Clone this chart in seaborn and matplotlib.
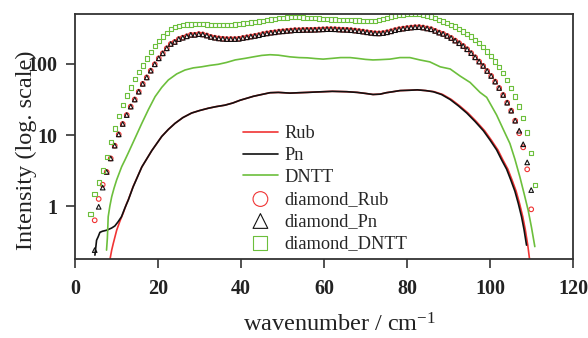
import numpy as np
import matplotlib
matplotlib.use("Agg")
import matplotlib.pyplot as plt
from matplotlib.ticker import NullLocator
import seaborn as sns

# --- data (intensity, log axis) ---
# continuous spectra
rub_x = [8.43, 8.84, 9.23, 10.04, 10.84, 11.6, 12.4, 12.85, 14.0, 16.1, 18.5, 20.9, 22.5, 24.1,
         26.0, 28.1, 30.0, 32.1, 34.0, 36.1, 38.0, 39.8, 41.0, 43.0, 45.0, 47.0, 49.0, 51.8,
         54.0, 56.0, 58.0, 59.8, 62.0, 65.5, 68.0, 70.0, 71.8, 73.5, 75.0, 76.6, 78.3, 80.7,
         82.5, 84.5, 86.6, 88.6, 90.7, 92.7, 94.7, 96.7, 98.7, 100.3, 101.9, 103.1, 104.3,
         105.3, 106.3, 107.1, 107.9, 108.5, 109.1, 109.6]
rub_y = [0.178, 0.240, 0.299, 0.457, 0.617, 0.794, 1.07, 1.23, 1.88, 3.55, 6.03, 9.55, 12.0, 14.6,
         17.6, 20.4, 22.1, 23.8, 25.1, 26.3, 28.2, 30.9, 32.4, 35.1, 37.2, 39.4, 39.8, 38.9,
         39.4, 39.8, 40.3, 40.7, 41.2, 40.7, 39.8, 38.5, 37.2, 37.6, 39.4, 40.7, 42.2, 42.7,
         43.2, 42.2, 40.7, 37.2, 31.6, 25.7, 20.4, 15.5, 11.5, 8.51, 6.17, 4.47, 3.31,
         2.34, 1.62, 1.10, 0.708, 0.468, 0.282, 0.166]

pn_x = [4.8, 5.2, 5.6, 6.0, 6.6, 7.6, 8.8, 9.6, 10.4, 11.2, 12.0, 12.85, 14.0, 16.1, 18.5, 20.9,
        22.5, 24.1, 26.0, 28.1, 30.0, 32.1, 34.0, 36.1, 38.0, 39.8, 41.0, 43.0, 45.0, 47.0,
        49.0, 51.8, 54.0, 56.0, 58.0, 59.8, 62.0, 65.5, 68.0, 70.0, 71.8, 73.5, 75.0, 76.6,
        78.3, 80.7, 82.5, 84.5, 86.3, 88.3, 90.4, 92.4, 94.4, 96.4, 98.4, 100.0, 101.6, 102.8,
        104.0, 105.0, 106.0, 106.8, 107.6, 108.2, 108.8]
pn_y = [0.204, 0.331, 0.372, 0.427, 0.442, 0.457, 0.490, 0.525, 0.603, 0.708, 0.933, 1.22, 1.86,
        3.55, 6.03, 9.55, 12.0, 14.6, 17.6, 20.4, 22.1, 23.8, 25.1, 26.3, 28.2, 30.9, 32.4,
        35.1, 37.2, 39.4, 39.8, 38.9, 39.4, 39.8, 40.3, 40.7, 41.2, 40.7, 39.8, 38.5, 37.2,
        37.6, 39.4, 40.7, 42.2, 42.7, 43.2, 42.2, 40.7, 37.2, 31.6, 25.7, 20.4, 15.5, 11.5,
        8.51, 6.17, 4.47, 3.31, 2.34, 1.62, 1.10, 0.708, 0.468, 0.282]

dntt_x = [7.6, 7.8, 8.0, 8.4, 8.84, 9.4, 10.04, 11.25, 12.05, 12.85, 14.5, 16.1, 17.7, 19.3,
          20.9, 22.5, 24.5, 26.5, 28.5, 30.5, 32.5, 34.5, 36.5, 38.6, 41.0, 43.0, 45.0, 47.0,
          49.0, 51.8, 54.0, 56.0, 58.0, 59.8, 62.0, 64.0, 66.3, 68.0, 70.0, 71.8, 73.5, 75.9,
          78.3, 80.7, 83.1, 85.5, 88.0, 90.4, 92.8, 95.2, 97.6, 99.2, 101.6, 103.2, 104.8,
          106.0, 107.2, 108.2, 109.2, 110.0, 110.8]
dntt_y = [0.240, 0.355, 0.708, 1.00, 1.35, 1.78, 2.34, 3.59, 4.47, 5.62, 9.12, 14.6, 22.9, 34.7,
          46.8, 59.6, 72.4, 82.2, 88.1, 91.2, 95.5, 98.9, 105, 114, 120, 126, 132, 135,
          133, 126, 123, 122, 119, 117, 120, 123, 123, 120, 116, 114, 115, 117,
          123, 123, 114, 107, 91.2, 85.1, 67.6, 55.0, 39.8, 33.9, 19.1, 12.0, 7.59,
          4.57, 2.57, 1.51, 0.871, 0.501, 0.269]

# diamond simulations, sampled on an even grid (first point, spacing)
diamond_x0 = 3.78
diamond_dx = 0.965

diamond_dntt = [0.77, 1.48, 2.14, 3.16, 4.95, 8.04, 12.4, 18.6, 26.3, 35.9, 46.8, 61.0, 77.6, 95.5,
                119, 146, 178, 209, 245, 275, 309, 331, 343, 355, 359, 361, 363, 363, 363, 359,
                356, 355, 353, 352, 353, 355, 359, 363, 370, 376, 383, 389, 398, 405, 412, 422,
                432, 442, 447, 452, 455, 457, 457, 452, 447, 444, 442, 437, 432, 427, 424, 422,
                419, 417, 417, 412, 409, 407, 405, 403, 403, 405, 412, 427, 447, 466, 479, 490,
                498, 501, 504, 504, 501, 490, 476, 463, 440, 417, 394, 374, 354, 335, 308, 285,
                265, 243, 218, 196, 172, 149, 130, 108, 89.9, 74.0, 59.6, 45.5, 34.7, 25.1,
                17.2, 10.8, 5.64, 1.98]

# starts one grid step later than diamond_DNTT
diamond_rub = [0.631, 1.26, 2.00, 3.02, 4.68, 7.08, 10.2, 14.3, 19.1, 25.1, 31.6, 40.7, 52.5, 64.6,
               80.4, 98.9, 120, 141, 166, 191, 204, 224, 234, 245, 257, 257, 263, 260, 251, 240,
               234, 229, 226, 224, 224, 224, 226, 232, 237, 243, 248, 254, 263, 269, 275, 279,
               285, 288, 292, 295, 299, 299, 301, 302, 302, 303, 305, 307, 309, 309, 308, 305,
               303, 302, 299, 295, 290, 285, 279, 274, 270, 269, 272, 279, 288, 299, 308, 314,
               320, 325, 329, 330, 325, 316, 308, 292, 276, 265, 248, 232, 213, 196, 179, 161,
               142, 124, 108, 93.8, 79.6, 67.8, 56.4, 45.9, 36.6, 28.5, 22.0, 15.9, 10.6, 6.71,
               3.29, 0.90]

diamond_pn = [0.24, 0.977, 1.82, 3.02, 4.68, 7.08, 10.2, 14.3, 19.1, 25.1, 31.6, 40.7, 52.5, 64.6,
              80.4, 98.9, 120, 141, 166, 191, 204, 224, 234, 245, 257, 257, 263, 260, 251, 240,
              234, 229, 226, 224, 224, 224, 226, 232, 237, 243, 248, 254, 263, 269, 275, 279,
              285, 288, 292, 295, 299, 299, 301, 302, 302, 303, 305, 307, 309, 309, 308, 305,
              303, 302, 299, 295, 290, 285, 279, 274, 270, 269, 272, 279, 288, 299, 308, 314,
              320, 325, 329, 330, 325, 316, 308, 292, 276, 265, 248, 232, 213, 196, 179, 161,
              142, 124, 108, 93.8, 79.6, 67.8, 56.4, 45.9, 36.6, 28.5, 22.0, 15.9, 11.5, 7.41,
              4.12, 1.68]

x_ticks = [0, 20, 40, 60, 80, 100, 120]
y_ticks = [1, 10, 100]
y_ticklabels = ["1", "10", "100"]

# --- style ---
sns.set_theme(style="ticks")
plt.rcParams["font.family"] = ["Liberation Serif", "DejaVu Serif"]
plt.rcParams["mathtext.fontset"] = "custom"
plt.rcParams["mathtext.rm"] = "Liberation Serif"
plt.rcParams["mathtext.it"] = "Liberation Serif:italic"

RED = "#f03434"
BLACK = "#111111"
GREEN = "#6cbf3c"

dgrid = diamond_x0 + diamond_dx * np.arange(len(diamond_dntt))

fig = plt.figure(figsize=(5.88, 3.38), dpi=100)
ax = fig.add_axes([75 / 588, 1 - 259 / 338, 498 / 588, 245 / 338])

sns.lineplot(x=rub_x, y=rub_y, color=RED, lw=1.2, sort=False, estimator=None, label="Rub", ax=ax)
sns.lineplot(x=pn_x, y=pn_y, color=BLACK, lw=1.2, sort=False, estimator=None, label="Pn", ax=ax)
sns.lineplot(x=dntt_x, y=dntt_y, color=GREEN, lw=1.2, sort=False, estimator=None, label="DNTT", ax=ax)

sns.scatterplot(x=dgrid[1:1 + len(diamond_rub)], y=diamond_rub, marker="o", s=11,
                facecolor="none", edgecolor=RED, linewidth=0.8, label="diamond_Rub", ax=ax)
sns.scatterplot(x=dgrid[1:1 + len(diamond_pn)], y=diamond_pn, marker="^", s=11,
                facecolor="none", edgecolor=BLACK, linewidth=0.8, label="diamond_Pn", ax=ax)
sns.scatterplot(x=dgrid, y=diamond_dntt, marker="s", s=10,
                facecolor="none", edgecolor=GREEN, linewidth=0.8, label="diamond_DNTT", ax=ax)

ax.set_yscale("log")
ax.set_xlim(0, 120)
ax.set_ylim(0.18, 505)
ax.set_xticks(x_ticks)
ax.set_yticks(y_ticks)
ax.set_yticklabels(y_ticklabels)
ax.yaxis.set_minor_locator(NullLocator())
ax.tick_params(direction="out", length=6.5, width=1.2, labelsize=14.5, colors="#333333",
               labelcolor="#222222")
ax.tick_params(axis="x", pad=8)
ax.tick_params(axis="y", pad=6)
for lab in ax.get_xticklabels() + ax.get_yticklabels():
    lab.set_fontweight("bold")
for sp in ax.spines.values():
    sp.set_color("#333333")
    sp.set_linewidth(1.3)

ax.set_xlabel(r"wavenumber / cm$^{\mathrm{-1}}$", fontsize=17.5, color="#222222")
ax.set_ylabel("Intensity (log. scale)", fontsize=17.5, color="#222222")
ax.xaxis.set_label_coords((340 - 75) / 498, -0.222)
ax.yaxis.set_label_coords(-0.076, 0.445)

handles, labels = ax.get_legend_handles_labels()
ax.legend(handles, labels, loc="upper left", bbox_to_anchor=(243 / 588, 1 - 125 / 338),
          bbox_transform=fig.transFigure, frameon=False, fontsize=13.2, borderpad=0,
          borderaxespad=0, handlelength=1.9, handletextpad=0.38, labelspacing=0.27,
          markerscale=3.2)

fig.savefig("out.png", dpi=100)
